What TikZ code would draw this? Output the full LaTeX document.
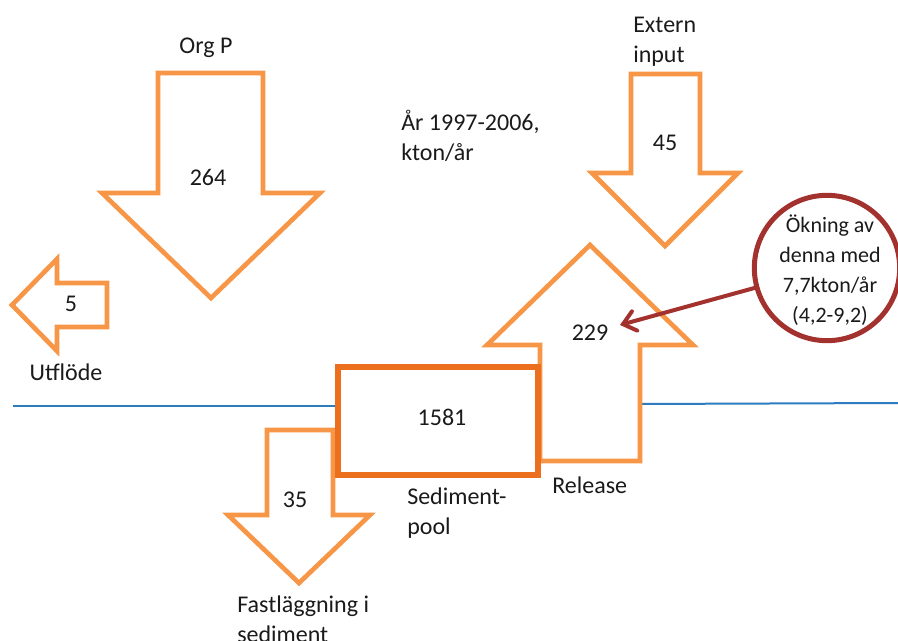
\documentclass[tikz,border=0pt]{standalone}
\usepackage{fontspec}
\setmainfont{Carlito}
\usetikzlibrary{arrows.meta}
\definecolor{flow}{HTML}{F79646}
\definecolor{pool}{HTML}{EC6F1E}
\definecolor{ring}{HTML}{A3322F}
\definecolor{water}{HTML}{2E7CC0}
\definecolor{ink}{HTML}{1A1A1A}
\tikzset{
  flowarrow/.style={draw=flow, line width=3.5pt, fill=white, line join=miter},
  lbl/.style={inner sep=0pt, text=ink, font=\fontsize{18}{22.5}\selectfont},
  lblblock/.style={lbl, align=left, anchor=west},
  waterline/.style={draw=water, line width=1.5pt},
}
\begin{document}
\begin{tikzpicture}[x=0.75pt, y=-0.75pt]
\useasboundingbox (0,0) rectangle (898,641);
% water surface
\coordinate (wl1) at (13,406);
\coordinate (wl2) at (340,406);
\coordinate (wr1) at (640,404);
\coordinate (wr2) at (898,403);
\draw[waterline] (wl1) -- (wl2);
\draw[waterline] (wr1) -- (wr2);
% Org P arrow
\draw[flowarrow] (158,73) -- (263,73) -- (263,193) -- (320,193) -- (211,298) -- (102,193) -- (158,193) -- cycle;
% Extern input arrow
\draw[flowarrow] (631,74) -- (700,74) -- (700,173) -- (738,173) -- (665,246) -- (592,173) -- (631,173) -- cycle;
% Release arrow (up)
\draw[flowarrow] (590,245) -- (693,345) -- (640,345) -- (640,461) -- (540,461) -- (540,345) -- (487,345) -- cycle;
% Utflöde arrow (left)
\draw[flowarrow] (12,305) -- (57,259) -- (57,283) -- (107,283) -- (107,327) -- (57,327) -- (57,351) -- cycle;
% Fastläggning arrow
\draw[flowarrow] (267,430) -- (333,430) -- (333,515) -- (370,515) -- (299,583) -- (228,515) -- (267,515) -- cycle;
% Sediment pool box
\node[draw=pool, line width=4pt, fill=white, minimum width=150pt, minimum height=81pt, inner sep=0pt] (box) at (438,421) {};
\node[lbl] (n1581) at (442,417) {1581};
% numbers
\node[lbl] (n264) at (208,177) {264};
\node[lbl] (n45) at (665,143) {45};
\node[lbl] (n229) at (590,333) {229};
\node[lbl] (n5) at (71,304) {5};
\node[lbl] (n35) at (295,500) {35};
% labels
\node[lbl] (orgp) at (206,48) {Org P};
\node[lblblock] (ext) at (633,42) {Extern\\input};
\node[lblblock] (year) at (401,136) {År 1997-2006,\\kton/år};
\node[lbl] (utf) at (66,372) {Utflöde};
\node[lblblock] (sedpool) at (407,513) {Sediment-\\pool};
\node[lblblock] (rel) at (552,485) {Release};
\node[lblblock] (fast) at (237,619) {Fastläggning i\\sediment};
% increase circle
\node[circle, draw=ring, line width=3.75pt, fill=white, minimum size=109pt, inner sep=0pt] (okn) at (827,268) {};
\node[lbl, align=center, font=\fontsize{16.5}{22.5}\selectfont] (okntext) at (830,270) {Ökning av\\denna med\\7,7kton/år\\(4,2-9,2)};
\coordinate (tip) at (620,325);
\draw[ring, line width=3pt, line cap=round, -{Straight Barb[length=9pt, width=15pt, line cap=round]}] (okn) -- (tip);
\end{tikzpicture}
\end{document}
